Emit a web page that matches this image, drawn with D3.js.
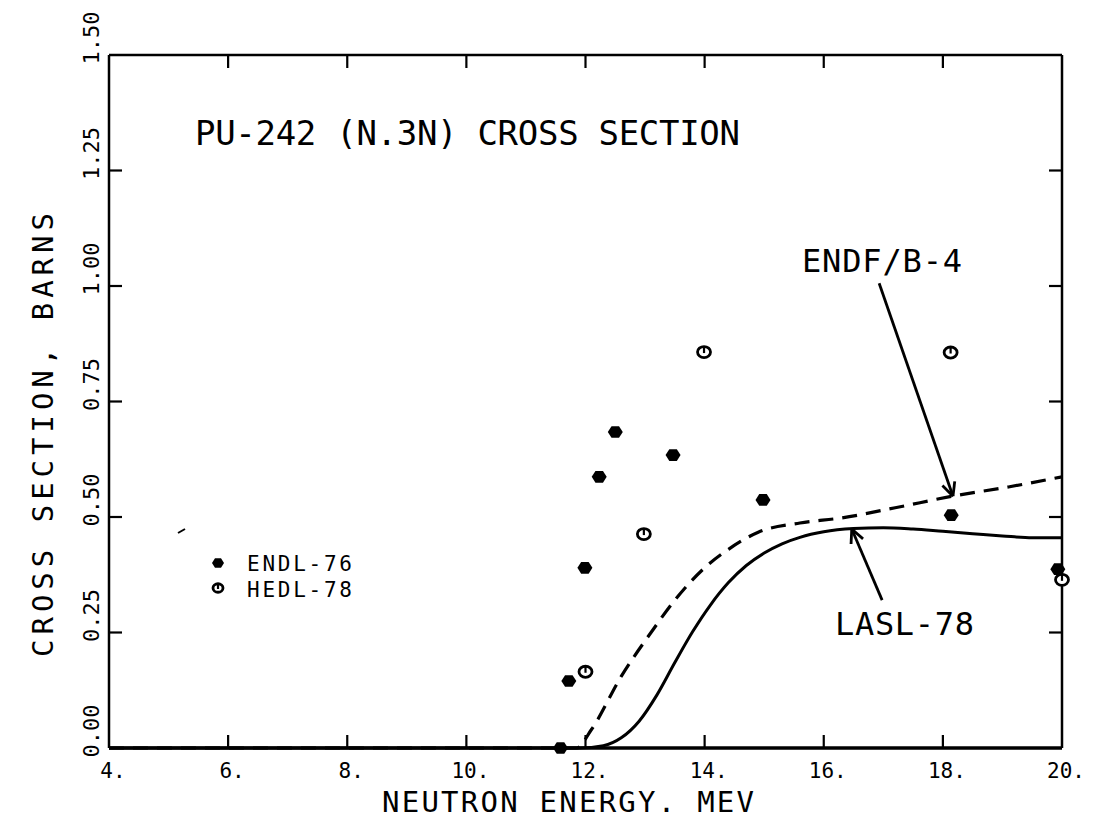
<!DOCTYPE html>
<html><head><meta charset="utf-8">
<script src="https://cdn.jsdelivr.net/npm/d3@7"></script>
<style>body{margin:0;background:#fff}svg{display:block}</style>
</head><body>
<svg id="c" width="1097" height="820"></svg>
<script>
// ---- data ----
const xTicks = [4, 6, 8, 10, 12, 14, 16, 18, 20];
const xTickLabels = ["4.", "6.", "8.", "10.", "12.", "14.", "16.", "18.", "20."];
const yTicks = [0, 0.25, 0.5, 0.75, 1.0, 1.25, 1.5];
const yTickLabels = ["0.00", "0.25", "0.50", "0.75", "1.00", "1.25", "1.50"];

const endlEnergy = [11.58, 11.72, 11.99, 12.23, 12.5, 13.47, 14.98, 18.14, 19.93];
const endlSigma  = [0.0, 0.145, 0.39, 0.587, 0.684, 0.634, 0.537, 0.504, 0.387];
const hedlEnergy = [12.0, 12.98, 13.99, 18.13, 20.0];
const hedlSigma  = [0.165, 0.463, 0.857, 0.856, 0.364];

const endfEnergy = [4, 11.85, 12.1, 12.6, 13.1, 13.5, 14.0, 14.4, 14.9, 15.6, 16.3, 17.2, 18.2, 19.1, 20];
const endfSigma  = [0, 0, 0.04, 0.155, 0.25, 0.32, 0.39, 0.43, 0.467, 0.487, 0.498, 0.52, 0.546, 0.565, 0.587];
const laslEnergy = [4, 11.9, 12.3, 12.6, 12.9, 13.2, 13.5, 13.8, 14.1, 14.4, 14.7, 15.0, 15.3, 15.6, 16.0, 16.5, 17.0, 17.5, 18.0, 18.5, 19.0, 19.5, 20];
const laslSigma  = [0, 0, 0.005, 0.022, 0.058, 0.115, 0.185, 0.252, 0.31, 0.358, 0.395, 0.422, 0.442, 0.456, 0.468, 0.475, 0.477, 0.474, 0.469, 0.464, 0.459, 0.455, 0.455];

const legendNames = ["ENDL-76", "HEDL-78"];
const titleText = "PU-242 (N.3N) CROSS SECTION";
const xLabel = "NEUTRON ENERGY. MEV";
const yLabel = "CROSS SECTION, BARNS";

// ---- layout ----
const FONT = "'DejaVu Sans Mono', 'Liberation Mono', monospace";
const svg = d3.select("#c");
const x = d3.scaleLinear().domain([4, 20]).range([109, 1062]);
const y = d3.scaleLinear().domain([0, 1.5]).range([748, 55]);
const ink = "#000";

// curves
const line = d3.line().x(d => x(d[0])).y(d => y(d[1])).curve(d3.curveMonotoneX);
svg.append("path").datum(endfEnergy.map((e, i) => [e, endfSigma[i]]))
  .attr("d", line).attr("fill", "none").attr("stroke", ink).attr("stroke-width", 3.2)
  .attr("stroke-dasharray", "15,9");
svg.append("path").datum(laslEnergy.map((e, i) => [e, laslSigma[i]]))
  .attr("d", line).attr("fill", "none").attr("stroke", ink).attr("stroke-width", 3);

// frame
const g = svg.append("g").attr("stroke", ink).attr("fill", "none");
g.append("line").attr("x1", x(4)).attr("x2", x(20)).attr("y1", y(0)).attr("y2", y(0)).attr("stroke-width", 3.5);
g.append("line").attr("x1", x(4)).attr("x2", x(20)).attr("y1", y(1.5)).attr("y2", y(1.5)).attr("stroke-width", 2.5);
g.append("line").attr("x1", x(4)).attr("x2", x(4)).attr("y1", y(0)).attr("y2", y(1.5)).attr("stroke-width", 2.5);
g.append("line").attr("x1", x(20)).attr("x2", x(20)).attr("y1", y(0)).attr("y2", y(1.5)).attr("stroke-width", 2.5);

const tl = 13;
xTicks.slice(1, -1).forEach(t => {
  g.append("line").attr("x1", x(t)).attr("x2", x(t)).attr("y1", y(0)).attr("y2", y(0) - tl).attr("stroke-width", 2.2);
  g.append("line").attr("x1", x(t)).attr("x2", x(t)).attr("y1", y(1.5)).attr("y2", y(1.5) + tl).attr("stroke-width", 2.2);
});
yTicks.slice(1, -1).forEach(t => {
  g.append("line").attr("x1", x(4)).attr("x2", x(4) + tl).attr("y1", y(t)).attr("y2", y(t)).attr("stroke-width", 2.2);
  g.append("line").attr("x1", x(20)).attr("x2", x(20) - tl).attr("y1", y(t)).attr("y2", y(t)).attr("stroke-width", 2.2);
});

// tick labels
xTicks.forEach((t, i) => {
  svg.append("text").attr("x", x(t) + 4).attr("y", 778)
    .attr("text-anchor", "middle").attr("font-family", FONT).attr("font-size", 21)
    .attr("fill", ink).text(xTickLabels[i]);
});
yTicks.forEach((t, i) => {
  svg.append("text").attr("transform", `translate(99,${y(t) - 17}) rotate(-90)`)
    .attr("text-anchor", "middle").attr("font-family", FONT).attr("font-size", 22)
    .attr("fill", ink).text(yTickLabels[i]);
});

// axis titles
svg.append("text").attr("x", 382).attr("y", 812).attr("font-family", FONT).attr("font-size", 29)
  .attr("textLength", 372).attr("lengthAdjust", "spacing").attr("fill", ink).text(xLabel);
svg.append("text").attr("transform", "translate(53,657) rotate(-90)").attr("font-family", FONT).attr("font-size", 29)
  .attr("textLength", 444).attr("lengthAdjust", "spacing").attr("fill", ink).text(yLabel);

// title
svg.append("text").attr("x", 195).attr("y", 145).attr("font-family", FONT).attr("font-size", 34)
  .attr("textLength", 545).attr("lengthAdjust", "spacing").attr("fill", ink).text(titleText);

// markers
function hexPath(r) {
  return d3.range(6).map(k => {
    const a = k * Math.PI / 3;
    return [r * Math.cos(a), r * Math.sin(a) * 0.9];
  });
}
function drawHex(cx, cy, r) {
  svg.append("polygon").attr("points", hexPath(r).map(p => [cx + p[0], cy + p[1]].join(",")).join(" "))
    .attr("fill", ink);
}
function drawOpen(cx, cy, r) {
  svg.append("ellipse").attr("cx", cx).attr("cy", cy).attr("rx", r).attr("ry", r * 0.85)
    .attr("fill", "#fff").attr("stroke", ink).attr("stroke-width", 2.8);
  svg.append("line").attr("x1", cx).attr("x2", cx).attr("y1", cy - r * 0.85).attr("y2", cy + 1)
    .attr("stroke", ink).attr("stroke-width", 2.2);
}
endlEnergy.forEach((e, i) => drawHex(x(e), y(endlSigma[i]), 7.5));
hedlEnergy.forEach((e, i) => drawOpen(x(e), y(hedlSigma[i]), 6.5));

// legend
drawHex(218, 563, 6);
drawOpen(218, 588, 5);
svg.append("text").attr("x", 247).attr("y", 571).attr("font-family", FONT).attr("font-size", 21)
  .attr("textLength", 105).attr("lengthAdjust", "spacing").attr("fill", ink).text(legendNames[0]);
svg.append("text").attr("x", 247).attr("y", 597).attr("font-family", FONT).attr("font-size", 21)
  .attr("textLength", 105).attr("lengthAdjust", "spacing").attr("fill", ink).text(legendNames[1]);

// annotations with arrows (data coordinates)
function arrow(e0, s0, e1, s1) {
  const x0 = x(e0), y0 = y(s0), x1 = x(e1), y1 = y(s1);
  svg.append("line").attr("x1", x0).attr("y1", y0).attr("x2", x1).attr("y2", y1)
    .attr("stroke", ink).attr("stroke-width", 2.8);
  const ang = Math.atan2(y1 - y0, x1 - x0);
  [0.45, -0.45].forEach(d => {
    svg.append("line").attr("x1", x1).attr("y1", y1)
      .attr("x2", x1 - 15 * Math.cos(ang + d)).attr("y2", y1 - 15 * Math.sin(ang + d))
      .attr("stroke", ink).attr("stroke-width", 2.8);
  });
}
arrow(16.93, 1.006, 18.17, 0.545);
arrow(16.98, 0.32, 16.47, 0.474);
svg.append("text").attr("x", 802).attr("y", 272).attr("font-family", FONT).attr("font-size", 32)
  .attr("textLength", 160).attr("lengthAdjust", "spacing").attr("fill", ink).text("ENDF/B-4");
svg.append("text").attr("x", 835).attr("y", 635).attr("font-family", FONT).attr("font-size", 32)
  .attr("textLength", 139).attr("lengthAdjust", "spacing").attr("fill", ink).text("LASL-78");

// small stray stroke in the original scan
svg.append("line").attr("x1", 178).attr("y1", 533).attr("x2", 185).attr("y2", 529)
  .attr("stroke", ink).attr("stroke-width", 2);
</script>
</body></html>
